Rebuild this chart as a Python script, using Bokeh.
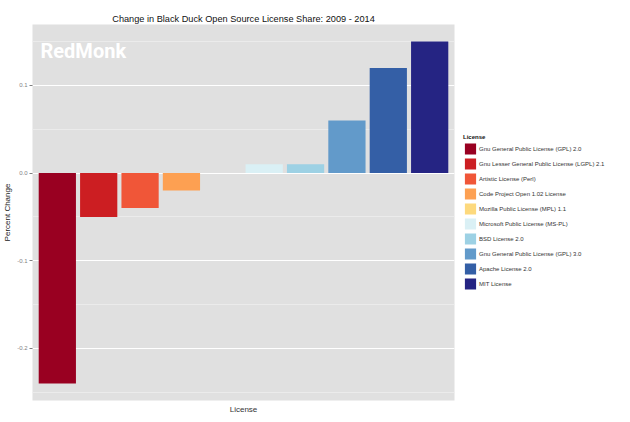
from bokeh.plotting import figure
from bokeh.models import (ColumnDataSource, FactorRange, Range1d, FixedTicker,
                          NumeralTickFormatter, Legend, LegendItem, Label, Title, Spacer)
from bokeh.layouts import column
from bokeh.embed import file_html
from bokeh.resources import INLINE

licenses = [
    "Gnu General Public License (GPL) 2.0",
    "Gnu Lesser General Public License (LGPL) 2.1",
    "Artistic License (Perl)",
    "Code Project Open 1.02 License",
    "Mozilla Public License (MPL) 1.1",
    "Microsoft Public License (MS-PL)",
    "BSD License 2.0",
    "Gnu General Public License (GPL) 3.0",
    "Apache License 2.0",
    "MIT License",
]
change = [-0.24, -0.05, -0.04, -0.02, 0.0, 0.01, 0.01, 0.06, 0.12, 0.15]
colors = ["#990021", "#CC1E22", "#F05638", "#FDA052", "#FDD97D",
          "#DAF0F5", "#9DD1E4", "#629ACA", "#345FA6", "#252483"]
y_ticks = [-0.2, -0.1, 0.0, 0.1]
y_minor = [-0.25, -0.15, -0.05, 0.05, 0.15]

lo, hi = min(change), max(change)
span = hi - lo
y_start, y_end = lo - 0.05 * span, hi + 0.05 * span

FONT = "Liberation Sans"

src = ColumnDataSource(dict(license=licenses, change=change, color=colors))

p = figure(
    x_range=FactorRange(*licenses, range_padding=0.02, range_padding_units="percent"),
    y_range=Range1d(y_start, y_end),
    frame_width=422, frame_height=376,
    output_backend="svg", toolbar_location=None,
    min_border_left=0, min_border_top=0, min_border_bottom=0, min_border_right=150,
)
p.background_fill_color = "#E0E0E0"
p.border_fill_color = "white"
p.outline_line_color = None

p.add_layout(Title(text="Change in Black Duck Open Source License Share: 2009 - 2014",
                   align="center", text_font=FONT, text_font_size="9.2px",
                   text_font_style="normal", text_color="#111111", standoff=2), "above")

r = p.vbar(x="license", top="change", bottom=0, width=0.9, source=src,
           fill_color="color", line_color=None)

# y axis
p.yaxis.ticker = FixedTicker(ticks=y_ticks, minor_ticks=y_minor)
p.yaxis.formatter = NumeralTickFormatter(format="0.0")
p.yaxis.axis_label = "Percent Change"
p.yaxis.axis_label_text_font = FONT
p.yaxis.axis_label_text_font_size = "8px"
p.yaxis.axis_label_text_font_style = "normal"
p.yaxis.axis_label_text_color = "#222222"
p.yaxis.axis_label_standoff = 2
p.yaxis.major_label_text_font = FONT
p.yaxis.major_label_text_font_size = "6px"
p.yaxis.major_label_text_color = "#7F7F7F"
p.yaxis.major_label_standoff = 1
p.yaxis.axis_line_color = None
p.yaxis.major_tick_line_color = "#7F7F7F"
p.yaxis.major_tick_out = 3
p.yaxis.major_tick_in = 0
p.yaxis.minor_tick_line_color = None

# x axis: only the axis title is shown
p.xaxis.visible = False
p.add_layout(Title(text="License", align="center", text_font=FONT, text_font_size="8px",
                   text_font_style="normal", text_color="#333333", standoff=5,
                   offset=0), "below")

# grids
p.xgrid.grid_line_color = None
p.ygrid.grid_line_color = "white"
p.ygrid.grid_line_width = 1.2
p.ygrid.minor_grid_line_color = "#EDEDED"
p.ygrid.minor_grid_line_width = 0.8

# watermark
p.add_layout(Label(x=8, y=376 - 26, x_units="screen", y_units="screen",
                   text="RedMonk", text_color="white", text_font="Roboto",
                   text_font_style="bold", text_font_size="20px", text_baseline="alphabetic"))

legend = Legend(
    items=[LegendItem(label=name, renderers=[r], index=i) for i, name in enumerate(licenses)],
    location="center_left",
    title="License",
    title_text_font=FONT, title_text_font_size="6px", title_text_font_style="bold",
    title_text_color="#111111", title_standoff=2,
    label_text_font=FONT, label_text_font_size="6px", label_text_color="#333333",
    glyph_width=14, glyph_height=14, label_height=14, spacing=1,
    label_standoff=2, padding=0, margin=9,
    border_line_color=None, background_fill_alpha=0,
)
p.add_layout(legend, "right")

layout = column(Spacer(height=10), p, spacing=0)
open("out.html", "w").write(file_html(layout, INLINE))
